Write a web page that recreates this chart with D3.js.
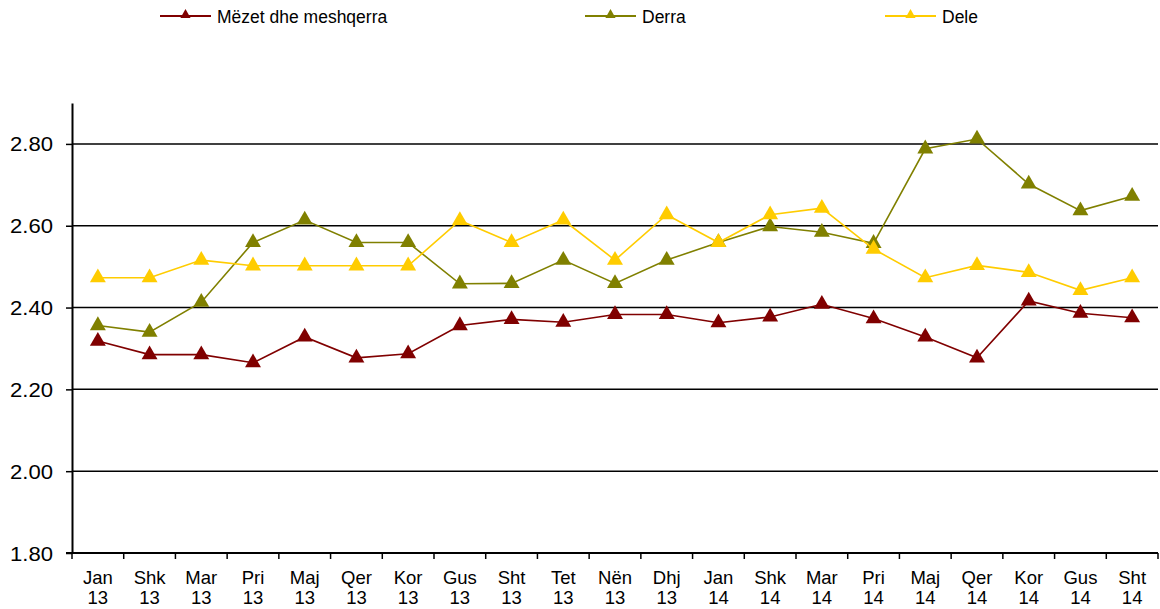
<!DOCTYPE html>
<html><head><meta charset="utf-8">
<script src="https://cdn.jsdelivr.net/npm/d3@7"></script>
<style>body{margin:0;background:#fff}svg{display:block;font-family:"Liberation Sans",Arial,sans-serif}</style>
</head><body><svg id="c" width="1160" height="609"></svg>
<script>
const months = ["Jan","Shk","Mar","Pri","Maj","Qer","Kor","Gus","Sht","Tet","Nën","Dhj","Jan","Shk","Mar","Pri","Maj","Qer","Kor","Gus","Sht"];
const years = ["13","13","13","13","13","13","13","13","13","13","13","13","14","14","14","14","14","14","14","14","14"];
const seriesNames = ["Mëzet dhe meshqerra","Derra","Dele"];
const mezet = [2.318,2.285,2.285,2.265,2.328,2.277,2.287,2.356,2.371,2.364,2.383,2.383,2.363,2.377,2.408,2.373,2.328,2.277,2.416,2.386,2.375];
const derra = [2.356,2.340,2.413,2.559,2.614,2.559,2.559,2.458,2.459,2.516,2.459,2.516,2.559,2.598,2.584,2.557,2.788,2.812,2.702,2.637,2.672];
const dele  = [2.473,2.473,2.516,2.502,2.502,2.502,2.502,2.613,2.559,2.614,2.516,2.627,2.559,2.627,2.643,2.543,2.473,2.503,2.486,2.442,2.473];
const yTicks = [1.80,2.00,2.20,2.40,2.60,2.80];
const colors = ["#800000","#808000","#FFCC00"];
const allSeries = [mezet, derra, dele];

const svg = d3.select("#c");
const L = 72, R = 1158, T = 103, B = 553;
const idx = months.map((m,i)=>i);
const x = d3.scaleBand().domain(idx).range([L,R]);
const y = d3.scaleLinear().domain([1.8,2.9]).range([B,T]);

// gridlines
svg.append("g").selectAll("line").data(yTicks.slice(1)).join("line")
  .attr("x1",L).attr("x2",R).attr("y1",d=>y(d)).attr("y2",d=>y(d))
  .attr("stroke","#000").attr("stroke-width",1.5);

// y axis
const yAx = svg.append("g").attr("transform",`translate(${L},0)`)
  .call(d3.axisLeft(y).tickValues(yTicks).tickFormat(d3.format(".2f")).tickSize(6).tickSizeOuter(0));
yAx.attr("font-size",null).attr("font-family",null);
yAx.select(".domain").attr("stroke","#000").attr("stroke-width",2);
yAx.selectAll(".tick line").attr("stroke","#000").attr("stroke-width",1.5);
yAx.selectAll("text").attr("font-size",19.5).attr("fill","#000").attr("x",-19).attr("dy","0.36em")
  .attr("textLength",43).attr("lengthAdjust","spacingAndGlyphs");

// x axis
const xAx = svg.append("g").attr("transform",`translate(0,${B})`);
xAx.append("line").attr("x1",L-6).attr("x2",R).attr("stroke","#000").attr("stroke-width",2);
const bounds = idx.map(i=>x(i)).concat([R]);
xAx.selectAll(".tk").data(bounds).join("line").attr("class","tk")
  .attr("x1",d=>d).attr("x2",d=>d).attr("y1",0).attr("y2",6).attr("stroke","#000").attr("stroke-width",1.5);
const lab = xAx.selectAll(".lb").data(idx).join("text").attr("class","lb")
  .attr("x",i=>x(i)+x.bandwidth()/2).attr("text-anchor","middle").attr("font-size",18.5).attr("fill","#000");
lab.append("tspan").attr("x",i=>x(i)+x.bandwidth()/2).attr("y",31).text(i=>months[i]);
lab.append("tspan").attr("x",i=>x(i)+x.bandwidth()/2).attr("y",51).text(i=>years[i]);

// lines & markers
const line = d3.line().x((d,i)=>x(i)+x.bandwidth()/2).y(d=>y(d));
const tri = d3.symbol().type(d3.symbolTriangle).size(110);
allSeries.forEach((s,k)=>{
  const g = svg.append("g");
  g.append("path").datum(s).attr("d",line).attr("fill","none").attr("stroke",colors[k]).attr("stroke-width",1.6);
  g.selectAll("path.m").data(s).join("path").attr("class","m")
    .attr("d",tri).attr("transform",(d,i)=>`translate(${x(i)+x.bandwidth()/2},${y(d)})`)
    .attr("fill",colors[k]);
});

// legend
const legX = [160,585,885];
const leg = svg.append("g");
seriesNames.forEach((n,k)=>{
  const g = leg.append("g").attr("transform",`translate(${legX[k]},16)`);
  g.append("line").attr("x1",0).attr("x2",51).attr("stroke",colors[k]).attr("stroke-width",2);
  g.append("path").attr("d",d3.symbol().type(d3.symbolTriangle).size(45)).attr("transform","translate(25.5,-1)").attr("fill",colors[k]);
  g.append("text").attr("x",57).attr("y",6.5).attr("font-size",17.5).attr("fill","#000").text(n);
});
</script></body></html>
